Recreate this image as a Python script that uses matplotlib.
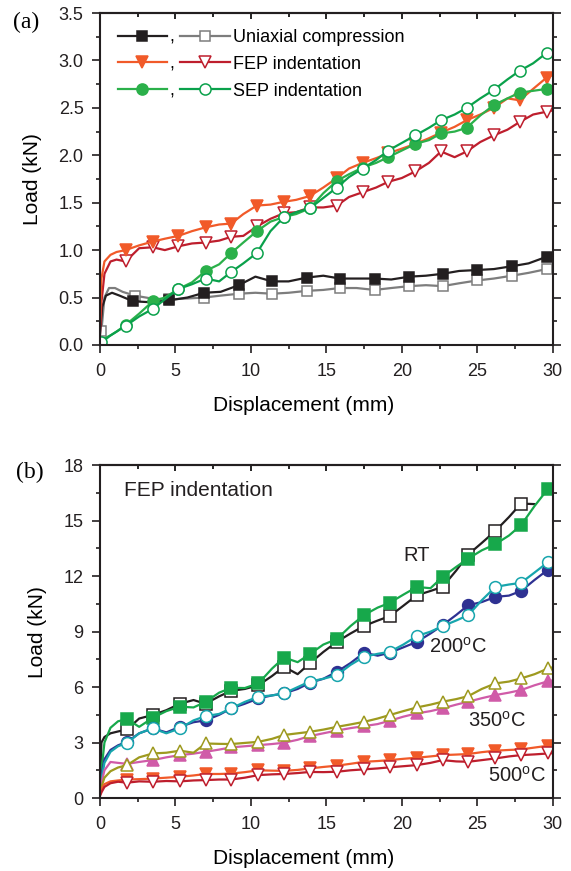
import matplotlib
matplotlib.use("Agg")
import matplotlib.pyplot as plt
from matplotlib.lines import Line2D
from matplotlib.ticker import MultipleLocator

plt.rcParams['font.family'] = ['Liberation Sans', 'DejaVu Sans']
plt.rcParams['mathtext.fontset'] = 'custom'
plt.rcParams['mathtext.rm'] = 'Liberation Sans'

# ---------------- panel (a) data ----------------
# uniaxial compression
uni_f_x = [0, 0.15, 0.4, 0.8, 1.3, 2.2, 3.4, 4.6, 5.8, 6.9, 8.0, 9.2, 10.3, 11.4, 12.5, 13.7,
           14.8, 15.9, 17.0, 18.2, 19.3, 20.5, 21.6, 22.7, 23.8, 25.0, 26.1, 27.3, 28.4, 29.6, 29.9]
uni_f_y = [0.1, 0.4, 0.52, 0.55, 0.52, 0.46, 0.45, 0.47, 0.5, 0.55, 0.56, 0.63, 0.72, 0.67, 0.67, 0.71,
           0.73, 0.70, 0.70, 0.70, 0.69, 0.72, 0.73, 0.75, 0.78, 0.79, 0.8, 0.83, 0.86, 0.93, 0.94]
uni_f_mk = [2.2, 4.6, 6.9, 9.2, 11.4, 13.7, 15.9, 18.2, 20.5, 22.7, 25.0, 27.3, 29.6]

uni_o_x = [0.1, 0.3, 0.6, 1.0, 1.5, 2.3, 3.4, 4.6, 5.8, 6.9, 8.0, 9.2, 10.3, 11.4, 12.5, 13.7,
           14.8, 15.9, 17.0, 18.2, 19.3, 20.5, 21.6, 22.7, 23.8, 25.0, 26.1, 27.3, 28.4, 29.6, 29.9]
uni_o_y = [0.15, 0.5, 0.6, 0.6, 0.56, 0.52, 0.49, 0.48, 0.49, 0.5, 0.52, 0.54, 0.55, 0.54, 0.55, 0.57,
           0.58, 0.6, 0.6, 0.58, 0.6, 0.62, 0.63, 0.62, 0.65, 0.68, 0.7, 0.73, 0.76, 0.8, 0.81]
uni_o_mk = [0.1, 2.3, 4.6, 6.9, 9.2, 11.4, 13.7, 15.9, 18.2, 20.5, 22.7, 25.0, 27.3, 29.6]

# FEP and SEP indentation share one displacement grid
xa = [0, 0.1, 0.3, 0.7, 1.1, 1.7, 2.6, 3.5, 4.3, 5.2, 6.1, 7.0, 7.9, 8.7, 9.5, 10.4, 11.3, 12.2, 13.0,
      13.9, 14.8, 15.7, 16.5, 17.4, 18.3, 19.1, 20.0, 20.9, 21.8, 22.6, 23.5, 24.3, 25.2, 26.1, 27.0,
      27.8, 28.7, 29.6, 29.9]
mk_a = [1.7, 3.5, 5.2, 7.0, 8.7, 10.4, 12.2, 13.9, 15.7, 17.4, 19.1, 20.9, 22.6, 24.3, 26.1, 27.8, 29.6]

fep_f_y = [0.2, 0.7, 0.88, 0.95, 0.98, 1.0, 1.05, 1.09, 1.12, 1.15, 1.2, 1.24, 1.27, 1.28, 1.38, 1.47,
           1.48, 1.51, 1.53, 1.57, 1.66, 1.76, 1.86, 1.92, 1.97, 2.02, 2.07, 2.12, 2.18, 2.24, 2.3, 2.37,
           2.43, 2.5, 2.6, 2.58, 2.7, 2.82, 2.84]
fep_o_y = [0.1, 0.45, 0.75, 0.88, 0.9, 0.88, 1.02, 1.03, 1.0, 1.04, 1.07, 1.08, 1.1, 1.14, 1.15, 1.25,
           1.33, 1.39, 1.4, 1.45, 1.45, 1.47, 1.56, 1.61, 1.66, 1.72, 1.76, 1.83, 1.92, 2.04, 1.98, 2.04,
           2.14, 2.21, 2.27, 2.35, 2.43, 2.46, 2.47]
sep_f_y = [0.05, 0.05, 0.07, 0.1, 0.14, 0.21, 0.33, 0.46, 0.5, 0.59, 0.66, 0.78, 0.85, 0.97, 1.08, 1.2,
           1.3, 1.35, 1.38, 1.44, 1.6, 1.73, 1.8, 1.87, 1.92, 1.98, 2.05, 2.12, 2.16, 2.23, 2.25, 2.29,
           2.42, 2.53, 2.6, 2.66, 2.68, 2.7, 2.72]
sep_o_y = [0.03, 0.03, 0.05, 0.1, 0.14, 0.2, 0.3, 0.38, 0.48, 0.59, 0.64, 0.7, 0.67, 0.77, 0.86, 0.97,
           1.2, 1.35, 1.4, 1.44, 1.55, 1.66, 1.77, 1.86, 1.95, 2.05, 2.13, 2.21, 2.29, 2.37, 2.43, 2.5,
           2.6, 2.69, 2.8, 2.89, 2.97, 3.08, 3.1]

# ---------------- panel (b) data ----------------
xb = [0, 0.1, 0.3, 0.7, 1.2, 1.8, 2.6, 3.5, 4.4, 5.3, 6.2, 7.0, 7.9, 8.7, 9.6, 10.5, 11.4, 12.2, 13.1,
      13.9, 14.8, 15.7, 16.6, 17.5, 18.4, 19.2, 20.1, 21.0, 21.9, 22.7, 23.6, 24.4, 25.3, 26.2, 27.1,
      27.9, 28.8, 29.7, 29.9]
mk_b = [1.8, 3.5, 5.3, 7.0, 8.7, 10.5, 12.2, 13.9, 15.7, 17.5, 19.2, 21.0, 22.7, 24.4, 26.2, 27.9, 29.7]

rt_f_y = [0.3, 1.5, 3.0, 3.8, 4.15, 4.27, 3.85, 4.34, 4.7, 4.94, 4.9, 5.2, 5.7, 5.96, 5.95, 6.2, 7.0,
          7.6, 7.35, 7.78, 8.3, 8.6, 9.3, 9.9, 10.3, 10.56, 11.0, 11.42, 11.35, 11.96, 12.5, 12.95, 13.4,
          13.73, 14.2, 14.76, 15.8, 16.74, 16.8]
rt_o_y = [0.5, 3.0, 3.3, 3.5, 3.6, 3.71, 4.3, 4.49, 4.75, 5.1, 5.3, 5.1, 5.5, 5.8, 5.9, 6.1, 6.6, 7.1,
          6.7, 7.28, 7.9, 8.45, 8.9, 9.31, 9.6, 9.84, 10.4, 10.97, 11.2, 11.42, 12.3, 13.17, 13.8, 14.45,
          15.2, 15.93, 15.9]
t200_f_y = [0.3, 1.2, 2.1, 2.6, 2.85, 3.04, 3.5, 3.77, 3.55, 3.85, 4.1, 4.2, 4.5, 4.85, 5.1, 5.39, 5.55,
            5.66, 5.9, 6.23, 6.45, 6.83, 7.3, 7.86, 7.7, 7.86, 8.15, 8.45, 8.9, 9.35, 9.9, 10.43, 10.6,
            10.88, 10.95, 11.2, 11.8, 12.36, 12.5]
t200_o_y = [0.2, 1.0, 1.9, 2.5, 2.8, 2.98, 3.5, 3.77, 3.5, 3.77, 4.2, 4.43, 4.55, 4.85, 5.2, 5.48, 5.55,
            5.66, 6.0, 6.3, 6.45, 6.65, 7.2, 7.64, 7.8, 7.91, 8.3, 8.76, 9.0, 9.3, 9.6, 9.89, 10.7, 11.42,
            11.55, 11.64, 12.2, 12.77, 12.9]
t350_f_y = [0.2, 0.8, 1.5, 1.95, 1.9, 1.85, 1.95, 2.05, 2.2, 2.32, 2.4, 2.5, 2.62, 2.74, 2.8, 2.86, 2.92,
            2.99, 3.15, 3.35, 3.5, 3.65, 3.78, 3.89, 4.0, 4.18, 4.4, 4.58, 4.7, 4.85, 5.05, 5.21, 5.4,
            5.57, 5.7, 5.84, 6.1, 6.32, 6.35]
t350_o_y = [0.2, 0.6, 1.1, 1.45, 1.65, 1.78, 2.2, 2.41, 2.45, 2.56, 2.45, 2.95, 2.93, 2.92, 2.98, 3.04,
            3.2, 3.41, 3.5, 3.58, 3.7, 3.85, 3.98, 4.12, 4.3, 4.49, 4.7, 4.9, 5.05, 5.21, 5.35, 5.51, 5.9,
            6.2, 6.3, 6.47, 6.7, 7.01, 7.05]
t500_f_y = [0.2, 0.5, 0.75, 0.9, 0.95, 1.0, 1.02, 1.05, 1.1, 1.15, 1.22, 1.3, 1.3, 1.32, 1.4, 1.5, 1.48,
            1.47, 1.52, 1.6, 1.68, 1.75, 1.85, 1.96, 2.0, 2.05, 2.12, 2.18, 2.25, 2.32, 2.35, 2.38, 2.48,
            2.56, 2.6, 2.63, 2.73, 2.83, 2.85]
t500_o_y = [0.1, 0.3, 0.6, 0.8, 0.88, 0.83, 0.9, 0.88, 0.92, 0.9, 0.95, 0.97, 1.0, 1.0, 1.1, 1.24, 1.28,
            1.3, 1.35, 1.41, 1.4, 1.42, 1.5, 1.55, 1.6, 1.66, 1.72, 1.78, 1.9, 2.05, 1.98, 1.96, 2.05,
            2.14, 2.25, 2.32, 2.36, 2.41, 2.42]


def curve(ax, x, y, mk, color, marker, ms, filled=True, lw=1.6):
    x = x[:len(y)]
    idx = [i for i, v in enumerate(x) if v in mk]
    ax.plot(x, y, color=color, lw=lw, marker=marker, markevery=idx, ms=ms,
            mfc=color if filled else 'white', mec=color, mew=1.1)


def style(ax, ymax, ymajor, yminor):
    ax.set_xlim(0, 30)
    ax.set_ylim(0, ymax)
    ax.xaxis.set_major_locator(MultipleLocator(5))
    ax.xaxis.set_minor_locator(MultipleLocator(2.5))
    ax.yaxis.set_major_locator(MultipleLocator(ymajor))
    ax.yaxis.set_minor_locator(MultipleLocator(yminor))
    ax.tick_params(which='both', direction='out', right=True, top=False, width=1.2,
                   labelsize=13, colors='#231f20')
    ax.tick_params(which='major', length=5.8)
    ax.tick_params(which='minor', length=3)
    ax.tick_params(axis='y', pad=6)
    ax.tick_params(axis='x', pad=7)
    top = ax.secondary_xaxis('top')
    top.xaxis.set_major_locator(MultipleLocator(5))
    top.xaxis.set_minor_locator(MultipleLocator(2.5))
    top.tick_params(which='both', direction='in', labeltop=False, width=1.2, length=4)
    top.tick_params(which='minor', length=3)
    for s in list(ax.spines.values()) + [top.spines['top']]:
        s.set_linewidth(1.5)
        s.set_color('#231f20')
    ax.set_xlabel('Displacement (mm)', fontsize=15, labelpad=12, x=0.449)
    ax.set_ylabel('Load (kN)', fontsize=15, labelpad=12)


fig = plt.figure(figsize=(5.71, 8.71), dpi=100)
ax1 = fig.add_axes([0.175, 0.604, 0.793, 0.381])
ax2 = fig.add_axes([0.175, 0.0838, 0.793, 0.382])

# ---- panel (a) ----
c_uf, c_uo = '#231f20', '#7d7d7d'
c_ff, c_fo = '#f15a29', '#be1e2d'
c_sf, c_so = '#2bb04a', '#0aa14b'
curve(ax1, uni_o_x, uni_o_y, uni_o_mk, c_uo, 's', 7.5, filled=False)
curve(ax1, uni_f_x, uni_f_y, uni_f_mk, c_uf, 's', 7.5)
curve(ax1, xa, fep_o_y, mk_a, c_fo, 'v', 9, filled=False)
curve(ax1, xa, fep_f_y, mk_a, c_ff, 'v', 9)
curve(ax1, xa, sep_f_y, mk_a, c_sf, 'o', 8)
curve(ax1, xa, sep_o_y, [0.1] + mk_a, c_so, 'o', 8, filled=False)
style(ax1, 3.5, 0.5, 0.25)


def proxy(color, marker, ms, filled=True):
    return Line2D([], [], color=color, lw=1.6, marker=marker, ms=ms,
                  mfc=color if filled else 'white', mec=color, mew=1.1)


handles = [proxy(c_uf, 's', 7.5), proxy(c_ff, 'v', 9), proxy(c_sf, 'o', 8),
           proxy(c_uo, 's', 7.5, False), proxy(c_fo, 'v', 9, False), proxy(c_so, 'o', 8, False)]
labels = [',', ',', ',', 'Uniaxial compression', 'FEP indentation', 'SEP indentation']
ax1.legend(handles, labels, ncol=2, loc='upper left', bbox_to_anchor=(0.015, 0.985),
           frameon=False, fontsize=13, handlelength=2.75, handletextpad=0.15,
           columnspacing=0.3, labelspacing=0.55, borderaxespad=0.2)

# ---- panel (b) ----
curve(ax2, xb, rt_o_y, mk_b, '#231f20', 's', 8, filled=False)
curve(ax2, xb, rt_f_y, mk_b, '#17a84b', 's', 8)
curve(ax2, xb, t200_f_y, mk_b, '#2e3192', 'o', 8.5)
curve(ax2, xb, t200_o_y, mk_b, '#17a5ad', 'o', 8.5, filled=False)
curve(ax2, xb, t350_f_y, mk_b, '#d05ba8', '^', 9)
curve(ax2, xb, t350_o_y, mk_b, '#9e9a1f', '^', 9, filled=False)
curve(ax2, xb, t500_f_y, mk_b, '#f15a29', 'v', 9)
curve(ax2, xb, t500_o_y, mk_b, '#be1e2d', 'v', 9, filled=False)
style(ax2, 18, 3, 1.5)

ax2.text(1.6, 16.65, 'FEP indentation', fontsize=15, va='center', color='#231f20')
ax2.text(20.1, 13.1, 'RT', fontsize=14.5, va='center', color='#231f20')
ax2.text(21.8, 8.2, '200$^\\mathrm{o}$C', fontsize=14.5, va='center', color='#231f20')
ax2.text(24.4, 4.2, '350$^\\mathrm{o}$C', fontsize=14.5, va='center', color='#231f20')
ax2.text(25.7, 1.2, '500$^\\mathrm{o}$C', fontsize=14.5, va='center', color='#231f20')

fig.text(13 / 571, 1 - 22 / 871, '(a)', family=['Liberation Serif', 'DejaVu Serif'],
         fontsize=17, va='center')
fig.text(16 / 571, 1 - 472 / 871, '(b)', family=['Liberation Serif', 'DejaVu Serif'],
         fontsize=17, va='center')

fig.savefig('out.png', dpi=100)
